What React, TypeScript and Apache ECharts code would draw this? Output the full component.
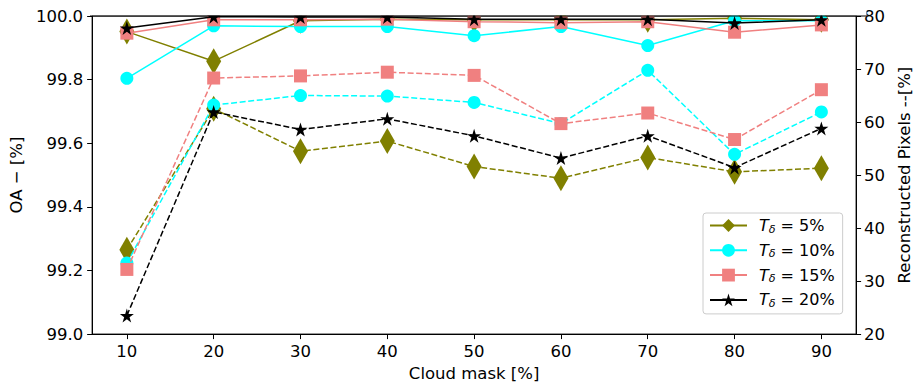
import React, { useEffect, useRef } from "react";
import * as echarts from "echarts";

const cloudMask = [10, 20, 30, 40, 50, 60, 70, 80, 90];
const thresholds = ["5%", "10%", "15%", "20%"];

// OA (left axis, solid lines)
const oa5 = [99.951, 99.858, 99.985, 99.99, 99.988, 99.988, 99.988, 99.993, 99.988];
const oa10 = [99.804, 99.969, 99.967, 99.967, 99.938, 99.967, 99.907, 99.985, 99.985];
const oa15 = [99.946, 99.988, 99.988, 99.99, 99.982, 99.979, 99.982, 99.949, 99.972];
const oa20 = [99.962, 99.998, 99.997, 99.997, 99.99, 99.99, 99.99, 99.978, 99.988];

// Reconstructed pixels (right axis, dashed lines)
const px5 = [35.9, 62.5, 54.5, 56.4, 51.6, 49.4, 53.3, 50.6, 51.3];
const px10 = [33.4, 63.2, 65.0, 64.9, 63.7, 59.7, 69.75, 53.9, 61.9];
const px15 = [32.2, 68.3, 68.7, 69.4, 68.8, 59.7, 61.7, 56.7, 66.1];
const px20 = [23.5, 61.9, 58.6, 60.6, 57.4, 53.2, 57.4, 51.4, 58.8];

const xTicks = [10, 20, 30, 40, 50, 60, 70, 80, 90];

const STAR =
  "path://M50,0 L61.2,34.5 L97.6,34.5 L68.2,55.9 L79.4,90.5 L50,69.1 L20.6,90.5 L31.8,55.9 L2.4,34.5 L38.8,34.5 Z";

const colors = ["#808000", "#00ffff", "#f08080", "#000000"];
const symbols: any[] = ["diamond", "circle", "rect", STAR];
const sizes: any[] = [[15, 26], 13, 13, 14];

const FONT = "DejaVu Sans";

export default function App() {
  const ref = useRef<HTMLDivElement>(null);
  useEffect(() => {
    if (!ref.current) return;
    const chart = echarts.init(ref.current, null, { renderer: "svg" });
    const oa = [oa5, oa10, oa15, oa20];
    const px = [px5, px10, px15, px20];
    const series: any[] = [];
    thresholds.forEach((t, i) => {
      series.push({
        name: t,
        type: "line",
        yAxisIndex: 0,
        data: cloudMask.map((x, j) => [x, oa[i][j]]),
        symbol: symbols[i],
        symbolSize: sizes[i],
        lineStyle: { color: colors[i], width: 1.5, type: "solid" },
        itemStyle: { color: colors[i] },
        z: 2 + i,
      });
    });
    thresholds.forEach((t, i) => {
      series.push({
        name: t,
        type: "line",
        yAxisIndex: 1,
        data: cloudMask.map((x, j) => [x, px[i][j]]),
        symbol: symbols[i],
        symbolSize: sizes[i],
        lineStyle: { color: colors[i], width: 1.5, type: [6, 2.6] },
        itemStyle: { color: colors[i] },
        z: 10 + i,
      });
    });
    chart.setOption({
      animation: false,
      textStyle: { fontFamily: FONT, color: "#000" },
      grid: {
        left: 90,
        right: 54,
        top: 16,
        bottom: 49,
        show: true,
        borderColor: "#000",
        borderWidth: 1,
        backgroundColor: "transparent",
      },
      graphic: [
        {
          type: "rect",
          z: 100,
          shape: { x: 90.5, y: 0, width: 776, height: 15.5 },
          style: { fill: "#fff" },
        },
        {
          type: "line",
          z: 101,
          shape: { x1: 90, y1: 16, x2: 867, y2: 16 },
          style: { stroke: "#000", lineWidth: 1 },
        },
      ],
      legend: {
        orient: "vertical",
        left: 703,
        top: 213,
        data: thresholds,
        itemWidth: 37,
        itemHeight: 16,
        itemGap: 7.8,
        padding: [4.5, 8, 5, 6],
        borderColor: "#cccccc",
        borderWidth: 1,
        borderRadius: 3,
        backgroundColor: "rgba(255,255,255,0.8)",
        formatter: (name: string) => `{t|T}{d|δ}{n| = ${name}}`,
        textStyle: {
          fontFamily: FONT,
          fontSize: 16,
          color: "#000",
          rich: {
            t: { fontFamily: FONT, fontSize: 16, fontStyle: "italic", lineHeight: 18, padding: [0, 0, 0, 7], color: "#000" },
            d: { fontFamily: FONT, fontSize: 11, fontStyle: "italic", lineHeight: 10, verticalAlign: "bottom", color: "#000" },
            n: { fontFamily: FONT, fontSize: 16, lineHeight: 18, color: "#000" },
          },
        },
      },
      xAxis: {
        type: "value",
        min: 6,
        max: 94,
        name: "Cloud mask [%]",
        nameLocation: "middle",
        nameGap: 30,
        nameTextStyle: { fontFamily: FONT, fontSize: 16.5, color: "#000" },
        splitLine: { show: false },
        axisLine: { show: true, onZero: false, lineStyle: { color: "#000", width: 1 } },
        axisTick: { show: true, length: 5, customValues: xTicks, lineStyle: { color: "#000" } },
        axisLabel: { customValues: xTicks, margin: 9, fontFamily: FONT, fontSize: 16.5, color: "#000" },
      },
      yAxis: [
        {
          type: "value",
          min: 99,
          max: 100,
          interval: 0.2,
          position: "left",
          name: "OA − [%]",
          nameLocation: "middle",
          nameRotate: 90,
          nameGap: 62,
          nameTextStyle: { fontFamily: FONT, fontSize: 16.5, color: "#000" },
          splitLine: { show: false },
          axisLine: { show: true, lineStyle: { color: "#000", width: 1 } },
          axisTick: { show: true, length: 5, lineStyle: { color: "#000" } },
          axisLabel: {
            margin: 9,
            fontFamily: FONT,
            fontSize: 16.5,
            color: "#000",
            formatter: (v: number) => v.toFixed(1),
          },
        },
        {
          type: "value",
          min: 20,
          max: 80,
          interval: 10,
          position: "right",
          name: "Reconstructed Pixels --[%]",
          nameLocation: "middle",
          nameRotate: 90,
          nameGap: 35,
          nameTextStyle: { fontFamily: FONT, fontSize: 16.5, color: "#000" },
          splitLine: { show: false },
          axisLine: { show: true, lineStyle: { color: "#000", width: 1 } },
          axisTick: { show: true, length: 5, lineStyle: { color: "#000" } },
          axisLabel: { margin: 8, fontFamily: FONT, fontSize: 16.5, color: "#000" },
        },
      ],
      series,
    });
    return () => chart.dispose();
  }, []);
  return (
    <div
      ref={ref}
      style={{ position: "fixed", left: 0, top: 0, width: 921, height: 387, background: "#fff" }}
    />
  );
}
